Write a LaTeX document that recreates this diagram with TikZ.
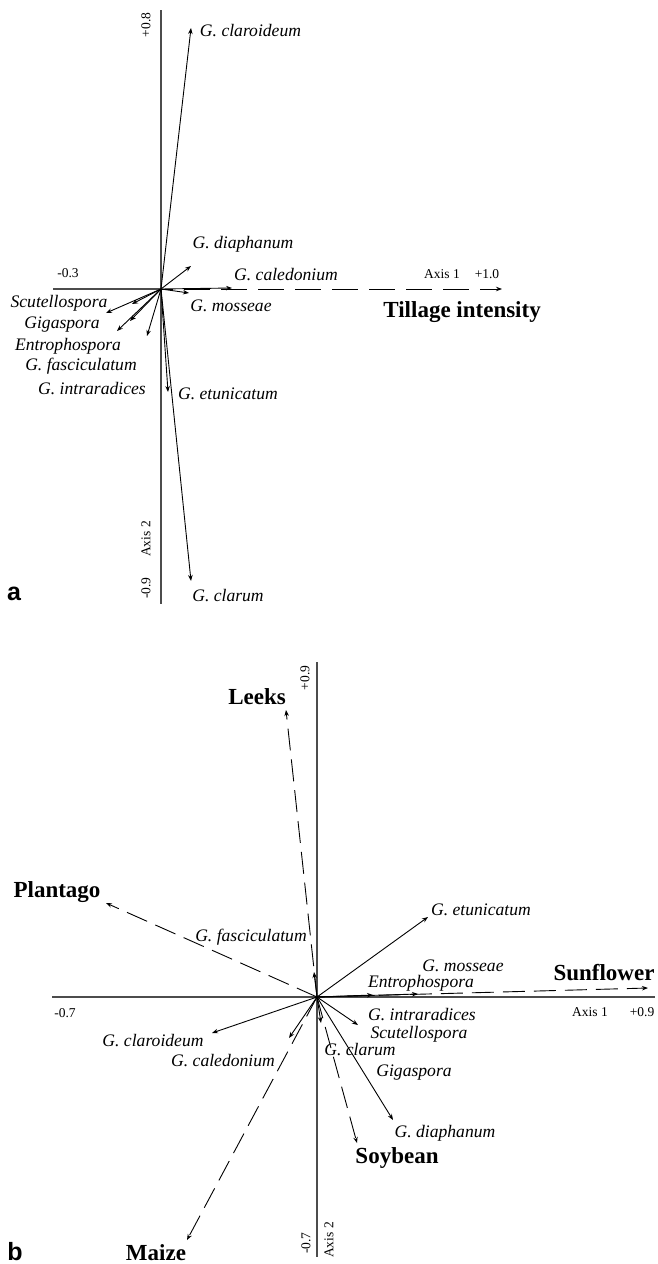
\documentclass[tikz,border=0pt]{standalone}
\usepackage{fontspec}
\setmainfont{Liberation Serif}
\newfontfamily\lsans{Liberation Sans}
\usetikzlibrary{arrows.meta}
\begin{document}
\begin{tikzpicture}[x=1pt,y=-1pt,
  sp/.style={font=\fontsize{17.6}{20}\selectfont\itshape, inner sep=0pt},
  tr/.style={font=\fontsize{23}{26}\selectfont\bfseries, inner sep=0pt},
  ax/.style={font=\fontsize{13.5}{15}\selectfont, inner sep=0pt},
  panel/.style={font=\fontsize{25}{28}\selectfont\lsans\bfseries, inner sep=0pt},
  axisline/.style={draw=black!70, line width=1.3pt},
  vec/.style={line width=0.9pt, -{Stealth[length=6pt,width=4.5pt]}},
  dvec/.style={vec, dash pattern=on 26pt off 11pt, dash phase=-60pt},
  dvecb/.style={vec, dash pattern=on 22pt off 9pt}]
\useasboundingbox[fill=white] (0,0) rectangle (658,1264);

% ---------------- panel a ----------------
\coordinate (oa) at (161,289);
\coordinate (aTop) at (161,10);
\coordinate (aBot) at (161,604);
\coordinate (aLeft) at (53,289);
\draw[axisline] (aTop) -- (aBot);
\draw[axisline] (aLeft) -- (oa);

\coordinate (aClaro) at (191,28);
\coordinate (aDiaph) at (191,266);
\coordinate (aCaled) at (232,288);
\coordinate (aMoss) at (189,293);
\coordinate (aS1) at (106,313);
\coordinate (aS2) at (132,304);
\coordinate (aS3) at (117,331);
\coordinate (aS4) at (130,321);
\coordinate (aS5) at (147,336);
\coordinate (aEtun) at (168,392);
\coordinate (aClar) at (191,581);
\coordinate (aTill) at (502,289);

\draw[dvec] (oa) -- (aTill);
\foreach \t in {aClaro,aDiaph,aCaled,aMoss,aS1,aS2,aS3,aS4,aS5,aEtun,aClar}
  \draw[vec] (oa) -- (\t);

\node[sp] (laClaro) at (250.5,31) {G. claroideum};
\node[sp] (laDiaph) at (243,244) {G. diaphanum};
\node[sp] (laCaled) at (286,275) {G. caledonium};
\node[sp] (laMoss) at (231,306) {G. mosseae};
\node[sp] (laScut) at (59,303) {Scutellospora};
\node[sp] (laGiga) at (62,325) {Gigaspora};
\node[sp] (laEntro) at (68,346) {Entrophospora};
\node[sp] (laFasc) at (81,366) {G. fasciculatum};
\node[sp] (laIntra) at (92,389) {G. intraradices};
\node[sp] (laEtun) at (228,394) {G. etunicatum};
\node[sp] (laClar) at (228,596) {G. clarum};
\node[tr, anchor=east] (laTill) at (541,312) {Tillage intensity};
\node[ax] (laM03) at (68,273) {-0.3};
\node[ax] (laAx1) at (442,274) {Axis 1};
\node[ax] (laP10) at (487,274) {+1.0};
\node[ax, rotate=90] (laP08) at (146,25) {+0.8};
\node[ax, rotate=90] (laAx2) at (146,539) {Axis 2};
\node[ax, rotate=90] (laM09) at (146,588) {-0.9};
\node[panel] (pa) at (14,594) {a};

% ---------------- panel b ----------------
\coordinate (ob) at (317,997);
\coordinate (bTop) at (317,662);
\coordinate (bBot) at (317,1257);
\coordinate (bLeft) at (52,997);
\coordinate (bRight) at (655,997);
\draw[axisline] (bTop) -- (bBot);
\draw[axisline] (bLeft) -- (bRight);

\coordinate (bLeeks) at (286,710);
\coordinate (bPlant) at (106,903);
\coordinate (bSun) at (648,988);
\coordinate (bSoy) at (357,1143);
\coordinate (bMaize) at (187,1240);
\foreach \t in {bLeeks,bPlant,bSun,bSoy,bMaize}
  \draw[dvecb] (ob) -- (\t);

\coordinate (bEtun) at (428,917);
\coordinate (bFasc) at (314,972);
\coordinate (bMoss) at (418,994);
\coordinate (bEntro) at (373,995);
\coordinate (bIntra) at (358,1025);
\coordinate (bClaro) at (212,1033);
\coordinate (bCaled) at (289,1038);
\coordinate (bClar) at (321,1023);
\coordinate (bDiaph) at (393,1120);
\foreach \t in {bEtun,bFasc,bMoss,bEntro,bIntra,bClaro,bCaled,bClar,bDiaph}
  \draw[vec] (ob) -- (\t);

\node[tr] (lbLeeks) at (257,697) {Leeks};
\node[tr] (lbPlant) at (57,892) {Plantago};
\node[tr] (lbSun) at (604,973) {Sunflower};
\node[tr] (lbSoy) at (397,1158) {Soybean};
\node[tr] (lbMaize) at (156,1253) {Maize};

\node[sp] (lbEtun) at (481,910) {G. etunicatum};
\node[sp] (lbFasc) at (251,937) {G. fasciculatum};
\node[sp] (lbMoss) at (463,966) {G. mosseae};
\node[sp] (lbEntro) at (421,983) {Entrophospora};
\node[sp] (lbIntra) at (422,1015) {G. intraradices};
\node[sp] (lbScut) at (419,1034) {Scutellospora};
\node[sp] (lbClaro) at (153,1041) {G. claroideum};
\node[sp] (lbCaled) at (223,1061) {G. caledonium};
\node[sp] (lbClar) at (360,1050) {G. clarum};
\node[sp] (lbGiga) at (414,1073) {Gigaspora};
\node[sp] (lbDiaph) at (445,1133) {G. diaphanum};

\node[ax] (lbM07) at (65,1013) {-0.7};
\node[ax] (lbAx1) at (590,1012) {Axis 1};
\node[ax] (lbP09) at (642,1012) {+0.9};
\node[ax, rotate=90] (lbP09v) at (305,678) {+0.9};
\node[ax, rotate=90] (lbM07v) at (306,1243) {-0.7};
\node[ax, rotate=90] (lbAx2) at (329,1240) {Axis 2};
\node[panel] (pb) at (15,1252) {b};
\end{tikzpicture}
\end{document}
